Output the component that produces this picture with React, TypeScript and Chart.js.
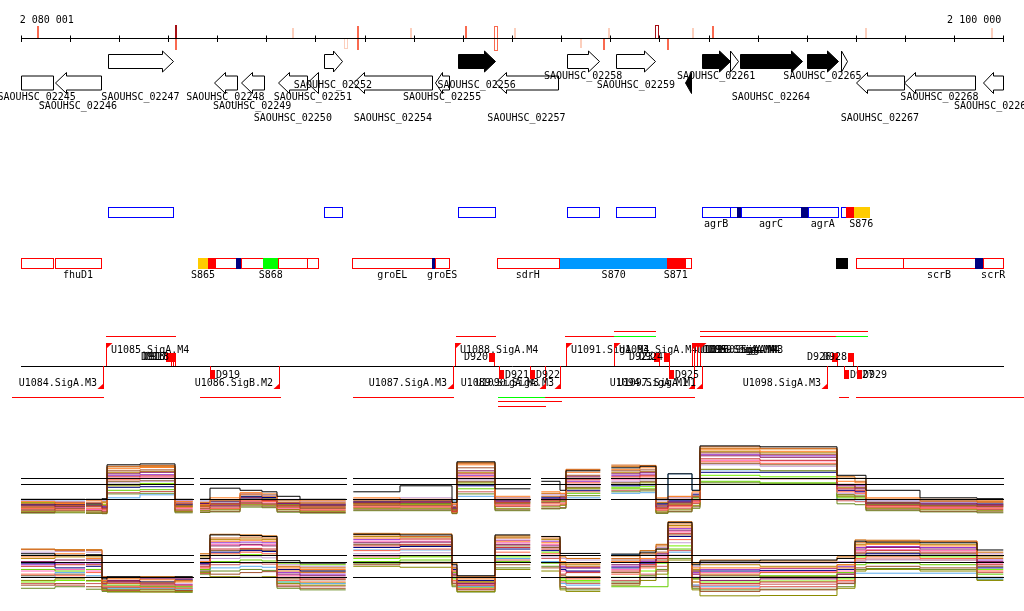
import { useEffect, useRef } from 'react';
import { Chart, registerables } from 'chart.js';

Chart.register(...registerables);

// ---------------- genome window ----------------
const regionStart = 2080001;
const regionEnd = 2100000;
const tickStep = 1000;
const coordLabels = ['2 080 001', '2 100 000'];

// ---------------- site marks on the coordinate axis ----------------
// position, strand ('+' above, '-' below, 'b' both), intensity 1..3, outlined
const siteMarks = [
  [2080346, '+', 2, 0],
  [2083155, '+', 3, 0],
  [2083155, '-', 2, 0],
  [2085536, '+', 1, 0],
  [2086621, '-', 1, 1],
  [2086859, 'b', 2, 0],
  [2087938, '+', 1, 0],
  [2089058, '+', 2, 0],
  [2089680, 'b', 2, 1],
  [2090055, '+', 1, 0],
  [2091410, '-', 1, 0],
  [2091866, '-', 2, 0],
  [2091968, '+', 1, 0],
  [2092951, '+', 3, 1],
  [2093175, '-', 2, 0],
  [2093690, '+', 1, 0],
  [2094097, '+', 2, 0],
  [2097199, '+', 1, 0],
  [2099770, '+', 1, 0],
];

// ---------------- genes ----------------
// name, start, end, strand, filled, label lane (-1 = no label)
const genes = [
  ['SAOUHSC_02245', 2079700, 2080651, '-', 0, 2],
  ['SAOUHSC_02246', 2080698, 2081628, '-', 0, 3],
  ['SAOUHSC_02247', 2081783, 2083094, '+', 0, 2],
  ['SAOUHSC_02248', 2083934, 2084396, '-', 0, 2],
  ['SAOUHSC_02249', 2084478, 2084946, '-', 0, 3],
  ['SAOUHSC_02250', 2085243, 2085833, '-', 0, 4],
  ['SAOUHSC_02251', 2085833, 2086057, '-', 0, 2],
  ['SAOUHSC_02252', 2086179, 2086534, '+', 0, 1],
  ['SAOUHSC_02254', 2086770, 2088378, '-', 0, 4],
  ['SAOUHSC_02255', 2088433, 2088718, '-', 0, 2],
  ['SAOUHSC_02256', 2088907, 2089654, '+', 1, 1],
  ['SAOUHSC_02257', 2089654, 2090936, '-', 0, 4],
  ['SAOUHSC_02258', 2091119, 2091777, '+', 0, 0],
  ['SAOUHSC_02259', 2092123, 2092917, '+', 0, 1],
  ['SAOUHSC_02260', 2093515, 2093643, '-', 1, -1],
  ['SAOUHSC_02261', 2093867, 2094443, '+', 1, 0],
  ['SAOUHSC_02262', 2094443, 2094600, '+', 0, -1],
  ['SAOUHSC_02264', 2094635, 2095903, '+', 1, 2],
  ['SAOUHSC_02265', 2096011, 2096629, '+', 1, 0],
  ['SAOUHSC_02266', 2096703, 2096819, '+', 0, -1],
  ['SAOUHSC_02267', 2097002, 2097973, '-', 0, 4],
  ['SAOUHSC_02268', 2097973, 2099430, '-', 0, 2],
  ['SAOUHSC_02269', 2099587, 2100300, '-', 0, 3],
];

// ---------------- annotation tracks ----------------
// start, end, kind, label
const featureTrack1 = [
  [2081783, 2083094, 'region', ''],
  [2086179, 2086534, 'region', ''],
  [2088907, 2089648, 'region', ''],
  [2091119, 2091765, 'region', ''],
  [2092123, 2092904, 'region', ''],
  [2093867, 2094443, 'region', 'agrB'],
  [2094443, 2094586, 'region', ''],
  [2094586, 2094655, 'intergenic', ''],
  [2094655, 2095888, 'region', 'agrC'],
  [2095888, 2096024, 'intergenic', ''],
  [2096024, 2096629, 'region', 'agrA'],
  [2096703, 2096799, 'region', ''],
  [2096799, 2096955, 'sRNA', ''],
  [2096955, 2097266, 'asRNA', 'S876'],
];

const featureTrack2 = [
  [2080000, 2080651, 'region', ''],
  [2080704, 2081628, 'region', 'fhuD1'],
  [2083609, 2083812, 'asRNA', 'S865'],
  [2083812, 2083955, 'sRNA', ''],
  [2083955, 2084382, 'region', ''],
  [2084382, 2084484, 'intergenic', ''],
  [2084484, 2084938, 'region', ''],
  [2084938, 2085243, 'riboswitch', 'S868'],
  [2085243, 2085833, 'region', ''],
  [2085833, 2086057, 'region', ''],
  [2086749, 2088378, 'region', 'groEL'],
  [2088378, 2088433, 'intergenic', ''],
  [2088433, 2088724, 'region', 'groES'],
  [2089689, 2090950, 'region', 'sdrH'],
  [2090983, 2093155, 'UTR', 'S870'],
  [2093155, 2093515, 'sRNA', 'S871'],
  [2093515, 2093637, 'region', ''],
  [2096594, 2096819, 'other', ''],
  [2097002, 2097953, 'region', ''],
  [2097953, 2099430, 'region', 'scrB'],
  [2099430, 2099587, 'intergenic', ''],
  [2099587, 2100000, 'region', 'scrR'],
];

// ---------------- transcription units ----------------
// name, position, strand
const promoters = [
  ['U1084.SigA.M3', 2081669, '-'],
  ['U1085.SigA.M4', 2081736, '+'],
  ['U1086.SigB.M2', 2085257, '-'],
  ['U1087.SigA.M3', 2088805, '-'],
  ['U1088.SigA.M4', 2088840, '+'],
  ['U1089.SigA.M3', 2090672, '-'],
  ['U1090.SigA.M3', 2090977, '-'],
  ['U1091.SigA.M4', 2091099, '+'],
  ['U1093.SigA.M4', 2092076, '+'],
  ['U1095.SigA.M4', 2093664, '+'],
  ['U1094.SigA.M1', 2093698, '-'],
  ['U1096.SigA.M4', 2093714, '+'],
  ['U1099.SigA.M4', 2093765, '+'],
  ['U1100.SigA.M3', 2093826, '+'],
  ['U1097.SigA.M1', 2093867, '-'],
  ['U1098.SigA.M3', 2096411, '-'],
];

// name, position, strand
const terminators = [
  ['D916', 2083059, '+'],
  ['D917', 2083090, '+'],
  ['D918', 2083134, '+'],
  ['D919', 2083853, '-'],
  ['D920', 2089633, '+'],
  ['D921', 2089735, '-'],
  ['D922', 2090366, '-'],
  ['D923', 2092992, '+'],
  ['D924', 2093196, '+'],
  ['D925', 2093196, '-'],
  ['D926', 2096609, '+'],
  ['D927', 2096758, '-'],
  ['D928', 2096935, '+'],
  ['D929', 2097016, '-'],
];

// start, end, strand, stack level, confirmed
const transcripts = [
  [2081736, 2083134, '+', 0, 0],
  [2088860, 2089654, '+', 0, 0],
  [2091085, 2092070, '+', 0, 0],
  [2092070, 2092917, '+', 0, 1],
  [2092070, 2092917, '+', 1, 0],
  [2093832, 2096594, '+', 0, 0],
  [2096594, 2097225, '+', 0, 1],
  [2093832, 2097225, '+', 1, 0],
  [2079823, 2081669, '-', 0, 0],
  [2083650, 2085278, '-', 0, 0],
  [2086770, 2088805, '-', 0, 0],
  [2089709, 2090672, '-', 0, 1],
  [2090672, 2093698, '-', 0, 0],
  [2089709, 2090997, '-', 1, 0],
  [2089709, 2090672, '-', 2, 0],
  [2096662, 2096833, '-', 0, 0],
  [2097002, 2100422, '-', 0, 0],
];

// ---------------- expression profiles ----------------
const exprPositions = [
  2080006, 2080698, 2081309,
  2081329, 2081655, 2081757, 2082428, 2083141, 2083501,
  2083650, 2083853, 2084464, 2084911, 2085217, 2085685, 2086615,
  2086770, 2087720, 2088779, 2088880, 2089654, 2090372,
  2090596, 2090977, 2091099, 2091797,
  2092021, 2092605, 2092931, 2093175, 2093664, 2093826, 2095048, 2096615, 2096981, 2097205, 2098304, 2099465, 2100000,
];
const panelStarts = [0, 3, 9, 16, 22, 26];
const referenceLevels = [12, 10, 5];

const forwardExpression = [
  [5, 5, 5, 5, 5.2, 16.5, 16.8, 5, 5, 5, 8.7, 8, 7.5, 6, 5, 5, 7.5, 9.5, 4, 17.5, 8.5, 8.5, 11, 8, 14.5, 14.5, 15.5, 16, 5, 13.5, 8, 22.8, 22.5, 13, 13, 8, 5.5, 5.2, 5.2],
  [3.5, 4, 4, 3.8, 3, 16, 16.3, 3.5, 3.5, 4, 4.5, 6.5, 6, 4, 3.5, 3.5, 4.5, 4.5, 2.5, 17, 5, 5, 6, 6, 15, 15, 16.4, 16.2, 4, 5, 6, 22.5, 22, 12, 11, 5, 4.5, 4, 4],
  [4.2, 3.6, 3.6, 4.5, 3.8, 15.2, 15.6, 4.2, 4.2, 3.2, 5.5, 7.2, 6.8, 4.8, 4.5, 4.5, 5.5, 5, 3.5, 16.5, 6, 6, 7.5, 7, 14, 14, 15, 15.5, 5.5, 6, 7.5, 21.5, 21, 11, 10.5, 5.5, 5, 4.5, 4.5],
  [1.5, 2, 2, 1.2, 0.8, 14.5, 14.8, 1.5, 1.5, 2, 2.5, 4, 3.5, 2.5, 2, 2, 3, 3, 1.5, 15.5, 3.5, 3.5, 4, 4.5, 13, 13, 14.5, 14.8, 3, 3.5, 5, 20.5, 20, 10, 9, 4, 3, 2.5, 2.5],
  [3, 2.5, 2.5, 3, 2.2, 13.5, 14, 3.8, 3.8, 3.5, 3, 5.5, 5, 3.5, 3, 3, 4, 3.8, 2, 14.5, 4.5, 4.5, 5, 5.5, 12.5, 12.5, 13.5, 14, 2.5, 4, 6, 19.5, 19, 9.5, 8.5, 3.5, 3.5, 3.2, 3.2],
  [2.5, 3, 3, 2.5, 1.8, 12.5, 12.8, 2.8, 2.8, 2.8, 3.5, 5, 4.6, 3, 2.5, 2.5, 3.5, 4, 1, 13.5, 4, 4, 4.5, 5, 11.5, 11.5, 12.5, 13, 2, 3, 4.5, 18.5, 18, 8.5, 8, 3, 2.5, 2.8, 2.8],
  [2, 1.5, 1.5, 2, 1.5, 11.5, 12, 2.2, 2.2, 2.4, 2, 4.5, 4.2, 2.2, 1.5, 1.5, 2.5, 2.5, 0.8, 12.5, 3, 3, 3.5, 3.5, 10.5, 10.5, 12, 12.5, 1.5, 2.5, 4, 17.5, 17, 7.5, 7, 2.5, 2, 2, 2],
  [4.5, 4.3, 4.3, 4, 4.5, 10.5, 11, 4.6, 4.6, 4.4, 4, 6.8, 6.3, 5, 4.2, 4.2, 5, 5.5, 3, 11.5, 5.5, 5.5, 6.5, 6.5, 9.5, 9.5, 11, 11.5, 4.5, 5.5, 7, 16.5, 16, 7, 6.5, 4.5, 4, 3.8, 3.8],
  [1, 0.8, 0.8, 0.8, 0.5, 9.5, 10, 1, 1, 1.2, 1.5, 3.2, 3, 1.5, 1, 1, 2, 2, 0.5, 10.5, 2, 2, 2.5, 3, 8.5, 8.5, 10, 10.5, 0.8, 1.5, 3, 15, 14.5, 6, 5, 2, 1.5, 1.2, 1.2],
  [3.2, 3.4, 3.4, 3.5, 2.8, 9, 9.2, 3.2, 3.2, 3.6, 4.2, 6, 5.6, 3.8, 3.4, 3.4, 4.2, 4.4, 2.2, 9.5, 4.8, 4.8, 5.5, 6, 8, 8, 9.5, 9.8, 3.5, 4.5, 6.5, 14, 14, 8, 7.5, 4, 3.8, 3.5, 3.5],
  [3.8, 2.8, 2.8, 3.2, 4, 8, 8.2, 3, 3, 3, 3.8, 5.8, 5.4, 3.2, 2.8, 2.8, 3.8, 3.6, 1.8, 8.5, 3.8, 3.8, 5, 4.2, 7, 7, 8.5, 8.5, 3.8, 3.8, 5.5, 11, 10.5, 5.5, 5.5, 3.2, 3, 3.4, 3.4],
  [4.8, 4.8, 4.8, 4.8, 4.8, 5.5, 6.5, 4.8, 4.8, 4.8, 4.8, 5.2, 6.5, 4.8, 4.8, 4.8, 4.8, 4.8, 4.5, 6, 4.8, 4.8, 5.8, 5.5, 5.5, 5.5, 7, 7.2, 4.8, 13.5, 8, 14.8, 14.5, 5, 4.8, 4.8, 4.8, 4.8, 4.8],
  [4, 3.2, 3.2, 3.6, 4.2, 15.8, 16, 4.4, 4.4, 3.8, 4.8, 7, 6.5, 4.5, 4, 4, 5, 4.8, 3.2, 17.2, 5.5, 5.5, 7, 6.8, 14.8, 14.8, 16, 16.3, 5, 5.8, 7, 22, 21.8, 12.5, 12, 5, 4.2, 4.2, 4.2],
  [2.2, 2.6, 2.6, 2.8, 2, 14, 14.3, 2.5, 2.5, 2.6, 3.2, 4.8, 4.4, 2.8, 2.2, 2.2, 3.2, 3.4, 1.2, 14, 3.8, 3.8, 4.8, 4.8, 12, 12, 14, 14.2, 2.2, 3.2, 4.8, 21, 20.5, 9, 8.8, 3.4, 2.8, 2.6, 2.6],
  [3.4, 3.8, 3.8, 3.3, 2.5, 13, 13.2, 3.5, 3.5, 3.2, 3.6, 5.6, 5.2, 3.6, 3.2, 3.2, 4, 4.2, 2.6, 13, 4.2, 4.2, 5.2, 5.2, 11, 11, 13, 13.4, 3.2, 4.2, 5.6, 20, 19.5, 9.8, 9.5, 3.8, 3.3, 3, 3],
  [1.8, 2.3, 2.3, 1.6, 1.2, 12, 12.4, 2, 2, 1.8, 2.4, 4.2, 3.8, 2, 1.8, 1.8, 2.8, 2.8, 1.2, 12, 3.2, 3.2, 4, 4, 10, 10, 11.5, 12, 1.8, 2.8, 4.2, 18, 17.8, 8, 7.5, 2.8, 2.2, 2.2, 2.2],
  [0.6, 1.2, 1.2, 0.5, 0.3, 11, 11.2, 0.8, 0.8, 0.8, 1, 2.8, 2.5, 1, 0.6, 0.6, 1.5, 1.5, 0.3, 11, 1.5, 1.5, 2, 2.2, 9, 9, 10.5, 11, 0.5, 1, 2.5, 17, 16.5, 6.5, 6, 1.5, 1, 0.8, 0.8],
  [2.8, 3.5, 3.5, 2.7, 3.2, 10, 10.3, 2.6, 2.6, 3, 3.4, 5.2, 4.8, 3.4, 2.9, 2.9, 3.6, 3.2, 1.6, 10, 4.4, 4.4, 4.2, 5.5, 8.8, 8.8, 9, 9.2, 3.4, 4.2, 6, 13, 12.5, 6.5, 6.2, 3.6, 3.2, 3, 3],
  [1.2, 1.8, 1.8, 1.4, 1, 7.2, 7.6, 1.2, 1.2, 1.5, 1.8, 3.6, 3.3, 1.6, 1.2, 1.2, 2.2, 2.4, 0.8, 7.5, 2.6, 2.6, 3, 3.2, 7.5, 7.5, 8, 8.2, 1.2, 2, 3.6, 12, 11.8, 4.5, 4.2, 2.2, 1.8, 1.6, 1.6],
  [0.4, 0.5, 0.5, 0.3, 0.2, 6.8, 7, 0.5, 0.5, 0.6, 0.8, 2.4, 2.2, 0.7, 0.4, 0.4, 1.2, 1.2, 0.2, 6.8, 1.2, 1.2, 1.8, 2, 6.2, 6.2, 7.5, 7.8, 0.3, 0.8, 2, 10.5, 10.2, 3.5, 3.2, 1.2, 0.8, 0.5, 0.5],
];

const reverseExpression = [
  [12.5, 12, 12, 12.2, 4.5, 5.2, 5, 5.2, 5.2, 11, 18.5, 18.3, 18, 10.3, 9.5, 9.5, 18.7, 18.5, 9, 5.5, 18.5, 18.5, 18, 12.6, 12.6, 12.6, 12.4, 13, 14, 22.5, 9, 10.2, 10.5, 11, 16.5, 16.2, 16, 13.7, 13.7],
  [13.8, 13.5, 13.5, 13.5, 3.5, 3, 3.2, 4, 4, 12, 17.5, 17.8, 17.5, 7, 6.5, 6.5, 18.5, 18, 8, 3.5, 17.5, 17.5, 17.5, 9, 8.5, 8.5, 11, 12.5, 15, 22, 7, 6, 6.5, 8, 16, 16.5, 16.5, 11, 11],
  [11.5, 12.5, 12.5, 11, 4, 4.5, 4.2, 3.5, 3.5, 10, 16.5, 16.8, 16.5, 8, 7.5, 7.5, 17.5, 17.2, 7, 4.5, 16.5, 16.5, 16, 10, 9.5, 9.5, 10, 11, 13, 21, 8, 8, 8, 9, 15, 15.5, 15, 12, 12],
  [2.5, 3, 3, 2, 1.5, 1, 1.2, 0.8, 0.8, 7, 6, 6.5, 6.8, 2, 1.5, 1.5, 9, 9.5, 3, 1, 9, 9, 8, 2, 1.5, 1.5, 3, 5, 7, 12, 2, 0.5, 1, 3, 8, 8.5, 8, 5, 5],
  [10, 10.5, 10.5, 10.5, 5, 4, 4.5, 4.5, 4.5, 9, 15, 15.5, 15, 6, 5.5, 5.5, 16, 16.2, 6, 3, 15.5, 15.5, 15, 8, 8, 8, 9, 10.5, 12.5, 20, 6, 4, 4.5, 6, 14, 14.5, 14, 10, 10],
  [8.5, 9, 9, 9, 3, 3.5, 2.8, 2.5, 2.5, 8.5, 14, 14.2, 14, 5, 4.5, 4.5, 15, 15.5, 5, 2.5, 14.5, 14.5, 14, 6, 6.5, 6.5, 7, 9, 11, 19, 5, 3, 3.5, 5, 13, 13.5, 13, 9, 9],
  [6, 5.5, 5.5, 6.5, 2, 2, 1.8, 1.5, 1.5, 8, 12.5, 13, 12.5, 4, 3.5, 3.5, 13.5, 14, 4, 1.5, 13, 13, 12.5, 5, 4.5, 4.5, 6, 8, 10, 17, 3.5, 1.5, 2, 4, 11, 11.5, 11, 7, 7],
  [13, 13.2, 13.2, 13, 4.8, 5, 4.8, 4.8, 4.8, 10.5, 11, 11.5, 11.2, 9, 8.5, 8.5, 12.5, 12.8, 8.5, 5, 12, 12, 11.5, 11, 10.5, 10.5, 10.5, 12, 14.5, 16, 8.5, 9.5, 9.5, 10, 10, 10.5, 10.5, 12.5, 12.5],
  [4, 4.5, 4.5, 4, 1, 0.5, 0.3, 0.5, 0.5, 6.5, 5.2, 5, 5.2, 3, 2.5, 2.5, 8.5, 8.2, 2.5, 0.5, 7.5, 7.5, 7, 1, 0.5, 0.5, 2.5, 4, 6, 10.5, 1, -0.9, -0.8, 1.5, 7, 7.5, 7, 4, 4],
  [9.5, 8, 8, 8.5, 3.8, 3.8, 3.5, 4.2, 4.2, 9.5, 13, 13.5, 13.2, 7.5, 7, 7, 14.5, 14.8, 7.5, 4, 14, 14, 13.5, 7.5, 7, 7, 8, 9.5, 12, 18, 7, 7, 7.2, 7.5, 12, 12.5, 12, 8, 8],
  [7.5, 7, 7, 7.5, 2.5, 2.5, 2.2, 2, 2, 7.5, 10, 10.5, 10.2, 9.5, 9, 9, 10, 10.5, 6.5, 3.5, 10, 10, 9.5, 4, 3.5, 3.5, 2, 2, 2, 14, 4.5, 5, 5.5, 6.5, 9, 9.5, 9, 6, 6],
  [5, 6.5, 6.5, 5.5, 1.5, 1.5, 1.5, 1.2, 1.2, 7, 8, 8.5, 8.2, 3.5, 3, 3, 13.7, 13.7, 5, 2, 11, 11, 10, 3, 2.5, 2.5, 12.2, 12.5, 13, 13, 2.5, 2, 2, 3, 6.3, 6.3, 6.3, 4.5, 4.5],
  [14, 13.8, 13.8, 13.8, 5.2, 4.8, 5.2, 5, 5, 12.5, 18.7, 18.5, 18.2, 8.5, 8, 8, 19, 18.8, 9.5, 5.2, 18.2, 18.2, 18, 11.5, 11, 11, 11.8, 13.5, 15.5, 22.7, 9.5, 10.5, 10.2, 11.5, 16.9, 16.8, 16.5, 13, 13],
  [11, 11.5, 11.5, 11.5, 3.2, 3.8, 3.5, 3.8, 3.8, 11.5, 17, 17.2, 17, 7.5, 7, 7, 18, 17.8, 8, 3.8, 17.8, 17.8, 17, 9.5, 9, 9, 10.5, 12, 14, 21.5, 7.5, 9, 8.5, 9, 15.5, 15.8, 15.5, 11.5, 11.5],
  [9, 9.5, 9.5, 9.5, 2.8, 3.2, 3, 2.8, 2.8, 9.5, 16, 16.2, 16, 6.5, 6, 6, 17, 17.2, 7, 3.2, 16.8, 16.8, 16.5, 8.5, 8, 8, 8.5, 10, 12, 20.5, 6.5, 7.5, 7.8, 8.5, 14.5, 14.8, 14.5, 10.5, 10.5],
  [7, 7.5, 7.5, 7, 2.2, 2.2, 2.4, 2.2, 2.2, 8, 15.5, 15.2, 15.5, 5.5, 5, 5, 16.5, 16.5, 6, 2.8, 16, 16, 15.5, 7, 6.8, 6.8, 7.5, 9, 11.5, 19.5, 6, 6.5, 6.8, 7, 13.5, 13.8, 13.5, 9.5, 9.5],
  [5.5, 6, 6, 5, 1.8, 1.8, 2, 1.6, 1.6, 7.5, 13.5, 13.8, 13.5, 4.5, 4.2, 4.2, 15.5, 15.2, 5.5, 2.2, 15, 15, 14.5, 5.5, 5.2, 5.2, 6.5, 8.5, 10.5, 18.5, 4.5, 5.5, 5.2, 6, 12.5, 12.8, 12.5, 8.5, 8.5],
  [3.5, 4, 4, 3.8, 1.2, 1.2, 1, 1, 1, 6.8, 12, 12.2, 12, 3.5, 3.2, 3.2, 11, 11.5, 4.5, 1.8, 11.5, 11.5, 13, 4.5, 4, 4, 5, 7, 9.5, 15, 3.5, 3.5, 3.8, 4.5, 11.5, 11.8, 11.5, 7.5, 7.5],
  [3, 2.5, 2.5, 3, 0.8, 0.8, 0.6, 0.7, 0.7, 6.2, 9, 9.5, 9.2, 2.5, 2.2, 2.2, 11.5, 11.8, 3.5, 1.2, 10.5, 10.5, 11, 3.5, 3, 3, 4, 6, 8.5, 13.5, 2.5, 2.5, 2.8, 3.5, 10.5, 10.8, 10.5, 6.5, 6.5],
  [1.5, 2, 2, 1.2, 0.5, 0.3, 0.4, 0.2, 0.2, 6, 7, 7.5, 7.2, 1.5, 1, 1, 9.5, 9.8, 2, 0.3, 8, 8, 8.5, 1.5, 1, 1, 3.5, 5.5, 7.5, 11, 1.5, 1, 1.2, 2, 7.5, 7.8, 7.5, 4.2, 4.2],
];

// ---------------- styles & layout (not data) ----------------
const SERIES_COLORS = [
  '#000000', '#d2691e', '#ff7f24', '#a0522d', '#8b1c62', '#cd3333', '#ff6347', '#c6a0d6', '#8b8b00', '#000080', '#66cd00', '#5cacee',
  '#cd6600', '#b8860b', '#9932cc', '#ff69b4', '#8b5a2b', '#76ee00', '#cd5c5c', '#698b22',
];
const MARK_COLORS = ['', '#fccfbd', '#f96a50', '#a50f15'];
const FEATURE_FILLS: Record<string, string> = {
  intergenic: '#000080', sRNA: '#ff0000', asRNA: '#ffcc00', riboswitch: '#00ff00', UTR: '#0099ff', other: '#000000',
};
const FONT = '10px "DejaVu Sans Mono", "Liberation Mono", monospace';
const W = 1024;
const H = 611;
const L = {
  axisLeftPx: 20.7, axisRightPx: 1003.3,
  axisY: 38, tickHalf: 2.5, coordLabelY: 20,
  markLen: [0, 10, 12, 13],
  fwdY: 61.5, revY: 83, bodyHalf: 7, headHalf: 10.5, headLen: 11,
  lanes: [76, 85, 97, 106, 118],
  tracks: [
    { top: 207, h: 10, labelY: 224, color: '#0000ff' },
    { top: 258, h: 10, labelY: 275, color: '#ff0000' },
  ],
  txY: 366, promTop: 343, promBot: 389, flag: 6, fwdLabelY: 350, revLabelY: 383,
  termFwdTop: 353, termRevTop: 370, termH: 9, termFwdLabelY: 357.5, termRevLabelY: 375,
  txFwdY: [336, 331], txRevY: [397, 401, 406],
  rows: [
    { id: 'yR1', pxAt5: 499.3, pxPerUnit: 3 },
    { id: 'yR2', pxAt5: 577.3, pxPerUnit: 3.14 },
  ],
};

const pxPerBp = (L.axisRightPx - L.axisLeftPx) / (regionEnd - (regionStart - 1));
const X_MIN = regionStart - 1 - L.axisLeftPx / pxPerBp;
const X_MAX = X_MIN + W / pxPerBp;

function rowScale(r: { pxAt5: number; pxPerUnit: number }) {
  const max = 5 + r.pxAt5 / r.pxPerUnit;
  return { type: 'linear', display: false, min: max - H / r.pxPerUnit, max };
}

function buildPoints(values: number[]) {
  const pts: { x: number; y: number | null }[] = [];
  exprPositions.forEach((x, i) => {
    if (i > 0 && panelStarts.includes(i)) pts.push({ x: (exprPositions[i - 1] + x) / 2, y: null });
    pts.push({ x, y: values[i] });
  });
  return pts;
}

const crisp = (v: number) => Math.round(v) + 0.5;

function drawTracks(chart: any) {
  const ctx: CanvasRenderingContext2D = chart.ctx;
  const xs = chart.scales.x;
  const ys = chart.scales.y;
  const X = (bp: number) => xs.getPixelForValue(bp);
  const Y = (r: number) => ys.getPixelForValue(r);
  ctx.save();
  ctx.font = FONT;
  ctx.textBaseline = 'middle';
  ctx.lineWidth = 1;

  // coordinate axis
  const a0 = X(regionStart - 1);
  const a1 = X(regionEnd);
  const ay = Y(L.axisY);
  siteMarks.forEach(([pos, strand, lvl, hollow]: any) => {
    const x = X(pos);
    const len = L.markLen[lvl];
    const top = strand === '-' ? ay : ay - len;
    const bot = strand === '+' ? ay : ay + len;
    if (hollow) {
      ctx.strokeStyle = MARK_COLORS[lvl];
      ctx.strokeRect(Math.round(x) - 1.5, top + 0.5, 3, bot - top);
    } else {
      ctx.fillStyle = MARK_COLORS[lvl];
      ctx.fillRect(Math.round(x) - 1, top, 2, bot - top);
    }
  });
  ctx.strokeStyle = '#000';
  ctx.beginPath();
  ctx.moveTo(Math.round(a0), crisp(ay));
  ctx.lineTo(Math.round(a1) + 1, crisp(ay));
  for (let t = regionStart - 1; t <= regionEnd; t += tickStep) {
    const x = crisp(X(t));
    ctx.moveTo(x, ay - L.tickHalf);
    ctx.lineTo(x, ay + L.tickHalf + 1.5);
  }
  ctx.stroke();
  ctx.fillStyle = '#000';
  ctx.textAlign = 'left';
  ctx.fillText(coordLabels[0], a0 - 1, Y(L.coordLabelY));
  ctx.textAlign = 'right';
  ctx.fillText(coordLabels[1], a1 - 2, Y(L.coordLabelY));

  // genes: arrows first, labels on top
  const geneLabels: [string, number, number][] = [];
  genes.forEach(([name, start, end, strand, filled, lane]: any) => {
    const s = Math.max(start, regionStart - 1);
    const e = Math.min(end, regionEnd);
    const x1 = crisp(X(s));
    const x2 = crisp(X(e));
    const fwd = strand === '+';
    const cy = Y(fwd ? L.fwdY : L.revY);
    const tipIn = fwd ? end <= regionEnd : start >= regionStart - 1;
    const len = x2 - x1;
    const hl = !tipIn ? 0 : len <= 12 ? len : Math.min(L.headLen, len / 2);
    const bh = L.bodyHalf;
    const hh = L.headHalf;
    let pts: number[][];
    if (fwd) {
      const hb = x2 - hl;
      if (hl >= len) pts = [[x1, cy - hh], [x2, cy], [x1, cy + hh]];
      else if (hl === 0) pts = [[x1, cy - bh], [x2, cy - bh], [x2, cy + bh], [x1, cy + bh]];
      else pts = [[x1, cy - bh], [hb, cy - bh], [hb, cy - hh], [x2, cy], [hb, cy + hh], [hb, cy + bh], [x1, cy + bh]];
    } else {
      const hb = x1 + hl;
      if (hl >= len) pts = [[x2, cy - hh], [x1, cy], [x2, cy + hh]];
      else if (hl === 0) pts = [[x2, cy - bh], [x1, cy - bh], [x1, cy + bh], [x2, cy + bh]];
      else pts = [[x2, cy - bh], [hb, cy - bh], [hb, cy - hh], [x1, cy], [hb, cy + hh], [hb, cy + bh], [x2, cy + bh]];
    }
    ctx.beginPath();
    pts.forEach(([px, py], i) => (i === 0 ? ctx.moveTo(px, py) : ctx.lineTo(px, py)));
    ctx.closePath();
    ctx.fillStyle = filled ? '#000' : '#fff';
    ctx.fill();
    ctx.strokeStyle = '#000';
    ctx.stroke();
    if (lane >= 0) geneLabels.push([name, (X(s) + X(e)) / 2, Y(L.lanes[lane])]);
  });
  ctx.fillStyle = '#000';
  ctx.textAlign = 'center';
  geneLabels.forEach(([name, x, y]) => ctx.fillText(name, x, y));

  // annotation tracks
  [featureTrack1, featureTrack2].forEach((boxes, ti) => {
    const T = L.tracks[ti];
    const top = Y(T.top);
    boxes.forEach(([start, end, kind, label]: any) => {
      const x1 = Math.round(X(start));
      const x2 = Math.round(X(end));
      if (kind === 'region') {
        ctx.strokeStyle = T.color;
        ctx.strokeRect(x1 + 0.5, top + 0.5, x2 - x1, T.h);
      } else {
        ctx.fillStyle = FEATURE_FILLS[kind];
        ctx.fillRect(x1, top, x2 - x1 + 1, T.h + 1);
      }
      if (label) {
        ctx.fillStyle = '#000';
        ctx.textAlign = 'center';
        ctx.fillText(label, (X(start) + X(end)) / 2, Y(T.labelY));
      }
    });
  });

  // transcription track
  const ty = Y(L.txY);
  ctx.strokeStyle = '#000';
  ctx.beginPath();
  ctx.moveTo(Math.round(a0), crisp(ty));
  ctx.lineTo(Math.round(a1) + 1, crisp(ty));
  ctx.stroke();

  transcripts.forEach(([start, end, strand, lvl, ok]: any) => {
    const y = crisp(Y(strand === '+' ? L.txFwdY[lvl] : L.txRevY[lvl]));
    ctx.strokeStyle = ok ? '#00ff00' : '#ff0000';
    ctx.beginPath();
    ctx.moveTo(Math.round(X(start)), y);
    ctx.lineTo(Math.round(X(end)) + 1, y);
    ctx.stroke();
  });

  promoters.forEach(([name, pos, strand]: any) => {
    const x = crisp(X(pos));
    const f = L.flag;
    ctx.strokeStyle = '#ff0000';
    ctx.fillStyle = '#ff0000';
    ctx.beginPath();
    if (strand === '+') {
      const top = Y(L.promTop);
      ctx.moveTo(x, ty);
      ctx.lineTo(x, top);
      ctx.stroke();
      ctx.beginPath();
      ctx.moveTo(x - 0.5, top);
      ctx.lineTo(x + f, top);
      ctx.lineTo(x - 0.5, top + f);
      ctx.closePath();
      ctx.fill();
      ctx.fillStyle = '#000';
      ctx.textAlign = 'left';
      ctx.fillText(name, x + 4.5, Y(L.fwdLabelY));
    } else {
      const bot = Y(L.promBot);
      ctx.moveTo(x, ty);
      ctx.lineTo(x, bot);
      ctx.stroke();
      ctx.beginPath();
      ctx.moveTo(x + 0.5, bot);
      ctx.lineTo(x - f, bot);
      ctx.lineTo(x + 0.5, bot - f);
      ctx.closePath();
      ctx.fill();
      ctx.fillStyle = '#000';
      ctx.textAlign = 'right';
      ctx.fillText(name, x - 6.5, Y(L.revLabelY));
    }
  });

  terminators.forEach(([name, pos, strand]: any) => {
    const xr = Math.round(X(pos));
    ctx.fillStyle = '#ff0000';
    ctx.strokeStyle = '#ff0000';
    if (strand === '+') {
      const top = Y(L.termFwdTop);
      ctx.fillRect(xr - 5, top, 5, L.termH);
      ctx.beginPath();
      ctx.moveTo(xr + 0.5, top);
      ctx.lineTo(xr + 0.5, ty);
      ctx.stroke();
      ctx.fillStyle = '#000';
      ctx.textAlign = 'right';
      ctx.fillText(name, xr - 6, Y(L.termFwdLabelY));
    } else {
      const top = Y(L.termRevTop);
      ctx.fillRect(xr, top, 5, L.termH);
      ctx.beginPath();
      ctx.moveTo(xr + 0.5, ty);
      ctx.lineTo(xr + 0.5, top + L.termH);
      ctx.stroke();
      ctx.fillStyle = '#000';
      ctx.textAlign = 'left';
      ctx.fillText(name, xr + 6, Y(L.termRevLabelY));
    }
  });
  ctx.restore();
}

function drawReferenceLines(chart: any) {
  const ctx: CanvasRenderingContext2D = chart.ctx;
  const xs = chart.scales.x;
  ctx.save();
  ctx.strokeStyle = '#000';
  ctx.lineWidth = 1;
  L.rows.forEach((r) => {
    const ys = chart.scales[r.id];
    panelStarts.forEach((s, k) => {
      const e = k + 1 < panelStarts.length ? panelStarts[k + 1] - 1 : exprPositions.length - 1;
      const x1 = Math.round(xs.getPixelForValue(exprPositions[s]));
      const x2 = Math.round(xs.getPixelForValue(exprPositions[e]));
      referenceLevels.forEach((lv) => {
        const y = crisp(ys.getPixelForValue(lv));
        ctx.beginPath();
        ctx.moveTo(x1, y);
        ctx.lineTo(x2 + 1, y);
        ctx.stroke();
      });
    });
  });
  ctx.restore();
}

const tracksPlugin = {
  id: 'genomeTracks',
  beforeDatasetsDraw(chart: any) {
    drawTracks(chart);
  },
  afterDatasetsDraw(chart: any) {
    drawReferenceLines(chart);
  },
};

export default function App() {
  const ref = useRef<HTMLCanvasElement>(null);
  useEffect(() => {
    document.body.style.margin = '0';
    const datasets: any[] = [];
    [forwardExpression, reverseExpression].forEach((rows, ri) => {
      rows.forEach((values, si) => {
        datasets.push({
          label: `${ri === 0 ? 'fwd' : 'rev'}-${si}`,
          data: buildPoints(values),
          yAxisID: L.rows[ri].id,
          borderColor: SERIES_COLORS[si],
          backgroundColor: SERIES_COLORS[si],
          borderWidth: 1,
          pointRadius: 0,
          stepped: true,
          spanGaps: false,
          fill: false,
        });
      });
    });
    const chart = new Chart(ref.current as HTMLCanvasElement, {
      type: 'line',
      data: { datasets },
      options: {
        animation: false,
        responsive: false,
        devicePixelRatio: 1,
        events: [],
        layout: { padding: 0 },
        plugins: { legend: { display: false }, tooltip: { enabled: false }, title: { display: false } },
        scales: {
          x: { type: 'linear', display: false, min: X_MIN, max: X_MAX },
          y: { type: 'linear', display: false, min: 0, max: H, reverse: true },
          yR1: rowScale(L.rows[0]) as any,
          yR2: rowScale(L.rows[1]) as any,
        },
      },
      plugins: [tracksPlugin],
    });
    return () => chart.destroy();
  }, []);
  return (
    <div style={{ position: 'absolute', left: 0, top: 0, width: W, height: H, background: '#fff' }}>
      <canvas ref={ref} width={W} height={H} style={{ display: 'block' }} />
    </div>
  );
}
